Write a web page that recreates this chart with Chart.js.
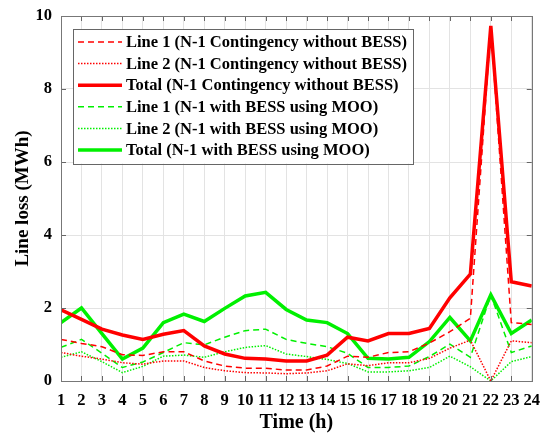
<!DOCTYPE html>
<html>
<head>
<meta charset="utf-8">
<script src="https://cdn.jsdelivr.net/npm/chart.js@4/dist/chart.umd.min.js"></script>
<style>
  html, body { margin: 0; padding: 0; background: #fff; }
  #wrap { width: 550px; height: 439px; position: relative; }
</style>
</head>
<body>
<div id="wrap"><canvas id="loss"></canvas></div>
<script>
// hours of the day
var hours = [1,2,3,4,5,6,7,8,9,10,11,12,13,14,15,16,17,18,19,20,21,22,23,24];
var yTicks = [0,2,4,6,8,10];

// N-1 contingency without BESS
var redLine1 = [1.14,1.03,0.94,0.72,0.7,0.8,0.8,0.55,0.41,0.35,0.35,0.3,0.3,0.41,0.68,0.65,0.78,0.8,1.04,1.35,1.72,9.7,1.6,1.55];
var redLine2 = [0.78,0.68,0.6,0.5,0.46,0.55,0.55,0.37,0.28,0.23,0.22,0.2,0.22,0.28,0.47,0.42,0.5,0.5,0.62,0.9,1.12,0,1.1,1.05];
var redTotal = [1.95,1.69,1.42,1.26,1.14,1.28,1.38,0.96,0.74,0.62,0.6,0.55,0.55,0.71,1.2,1.1,1.3,1.3,1.44,2.28,2.93,9.73,2.72,2.6];

// N-1 with BESS using MOO
var greenLine1 = [0.92,1.14,0.76,0.37,0.52,0.78,1.05,0.99,1.2,1.38,1.42,1.14,1.03,0.94,0.76,0.37,0.37,0.41,0.67,1.01,0.65,2.36,0.78,0.96];
var greenLine2 = [0.65,0.8,0.53,0.23,0.4,0.68,0.71,0.65,0.8,0.92,0.97,0.74,0.67,0.59,0.48,0.25,0.25,0.28,0.37,0.68,0.39,0,0.53,0.67];
var greenTotal = [1.6,2.0,1.3,0.6,0.9,1.6,1.83,1.63,1.99,2.33,2.43,1.96,1.67,1.6,1.3,0.62,0.6,0.65,1.08,1.74,1.1,2.36,1.3,1.67];

var serif = "'Liberation Serif', 'DejaVu Serif', serif";

function pts(arr){
    return arr.map(function(v,i){ return {x: hours[i], y: v}; });
}

function makeSet(label, arr, color, width, dash){
    return {
        label: label,
        data: pts(arr),
        borderColor: color,
        backgroundColor: color,
        borderWidth: width,
        borderDash: dash,
        pointRadius: 0,
        tension: 0,
        fill: false
    };
}

// inward tick marks + grey frame like the matlab figure
var framePlugin = {
    id: 'frame',
    afterDatasetsDraw: function(chart){
        var c = chart.ctx, a = chart.chartArea;
        var xs = chart.scales.x, ys = chart.scales.y;
        c.save();
        c.strokeStyle = '#666';
        c.lineWidth = 1;
        c.beginPath();
        hours.forEach(function(h){
            var px = Math.round(xs.getPixelForValue(h)) + 0.5;
            c.moveTo(px, a.bottom); c.lineTo(px, a.bottom - 5);
            c.moveTo(px, a.top); c.lineTo(px, a.top + 5);
        });
        yTicks.forEach(function(t){
            var py = Math.round(ys.getPixelForValue(t)) + 0.5;
            c.moveTo(a.left, py); c.lineTo(a.left + 5, py);
            c.moveTo(a.right, py); c.lineTo(a.right - 5, py);
        });
        c.stroke();
        c.strokeStyle = '#777';
        c.strokeRect(Math.round(a.left)+0.5, Math.round(a.top)+0.5, Math.round(a.right-a.left), Math.round(a.bottom-a.top));

        // legend box in the top left corner
        var x0 = a.left + 12, y0 = a.top + 13, w = 340, rowH = 21.6;
        var sets = chart.data.datasets;
        c.fillStyle = '#fff';
        c.fillRect(x0, y0, w, rowH * sets.length + 5);
        c.strokeStyle = '#666';
        c.strokeRect(Math.round(x0)+0.5, Math.round(y0)+0.5, w, Math.round(rowH * sets.length + 5));
        c.font = 'bold 16.5px ' + serif;
        c.textBaseline = 'middle';
        c.textAlign = 'left';
        sets.forEach(function(ds, i){
            var cy = y0 + 13 + i * rowH;
            c.beginPath();
            c.strokeStyle = ds.borderColor;
            c.lineWidth = ds.borderWidth;
            c.setLineDash(ds.borderDash);
            c.moveTo(x0 + 5, cy); c.lineTo(x0 + 49, cy);
            c.stroke();
            c.setLineDash([]);
            c.fillStyle = '#000';
            c.fillText(ds.label, x0 + 53, cy + 1);
        });
        c.restore();
    }
};

var ctx = document.getElementById('loss').getContext('2d');
var lossChart = new Chart(ctx, {
    type: 'line',
    data: {
        datasets: [
            makeSet('Line 1 (N-1 Contingency without BESS)', redLine1, '#ff0000', 1.5, [6,4]),
            makeSet('Line 2 (N-1 Contingency without BESS)', redLine2, '#ff0000', 1.5, [1.5,1.5]),
            makeSet('Total (N-1 Contingency without BESS)', redTotal, '#ff0000', 3.5, []),
            makeSet('Line 1 (N-1 with BESS using MOO)', greenLine1, '#00f000', 1.5, [6,4]),
            makeSet('Line 2 (N-1 with BESS using MOO)', greenLine2, '#00f000', 1.5, [1.5,1.5]),
            makeSet('Total (N-1 with BESS using MOO)', greenTotal, '#00f000', 3.5, [])
        ]
    },
    options: {
        responsive: true,
        maintainAspectRatio: false,
        animation: false,
        layout: { padding: { top: 16, right: 17, left: 8, bottom: 0 } },
        plugins: {
            tooltip: { enabled: false },
            legend: { display: false }
        },
        scales: {
            x: {
                type: 'linear',
                min: 1, max: 24,
                afterFit: function(s){ s.height = 58; },
                ticks: {
                    stepSize: 1,
                    padding: 10,
                    color: '#000',
                    maxRotation: 0,
                    autoSkip: false,
                    font: { family: serif, size: 16.5, weight: 'bold' }
                },
                grid: { color: '#e3e3e3', tickLength: 0, drawTicks: false },
                border: { display: false },
                title: {
                    display: true,
                    text: 'Time (h)',
                    color: '#000',
                    padding: { top: 2 },
                    font: { family: serif, size: 20, weight: 'bold' }
                }
            },
            y: {
                min: 0, max: 10,
                afterFit: function(s){ s.width = 53; s.paddingTop = 0; s.paddingBottom = 0; },
                ticks: {
                    stepSize: 2,
                    padding: 9,
                    color: '#000',
                    font: { family: serif, size: 16.5, weight: 'bold' }
                },
                grid: { color: '#e3e3e3', drawTicks: false },
                border: { display: false },
                title: {
                    display: true,
                    text: 'Line loss (MWh)',
                    color: '#000',
                    padding: { bottom: 2 },
                    font: { family: serif, size: 19, weight: 'bold' }
                }
            }
        }
    },
    plugins: [framePlugin]
});
</script>
</body>
</html>
